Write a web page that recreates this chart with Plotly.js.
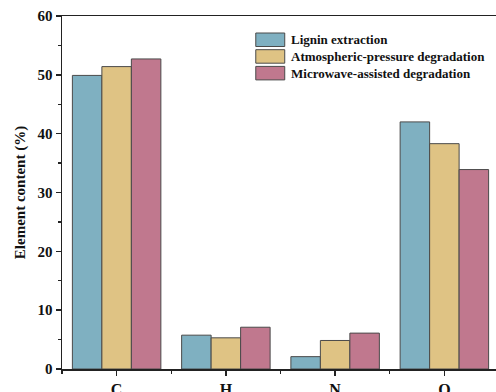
<!DOCTYPE html>
<html>
<head>
<meta charset="utf-8">
<script src="https://cdn.plot.ly/plotly-3.0.1.min.js"></script>
<style>html,body{margin:0;padding:0;overflow:hidden;background:#fff;}</style>
</head>
<body>
<div id="chart" style="width:500px;height:392px;"></div>
<script>
const categories = ["C", "H", "N", "O"];
const seriesNames = ["Lignin extraction", "Atmospheric-pressure degradation", "Microwave-assisted degradation"];
const ligninExtraction = [49.9, 5.75, 2.1, 42.0];
const atmosphericPressure = [51.4, 5.3, 4.85, 38.3];
const microwaveAssisted = [52.7, 7.1, 6.1, 33.9];
const yTicks = [0, 10, 20, 30, 40, 50, 60];
const colors = ["#7fb0c1", "#dfc384", "#c0788e"];

const serif = "Liberation Serif, Times New Roman, serif";
const idx = categories.map((c, i) => i);
const allSeries = [ligninExtraction, atmosphericPressure, microwaveAssisted];

const traces = allSeries.map((vals, k) => ({
  type: "bar",
  name: seriesNames[k],
  x: idx,
  y: vals,
  marker: {color: colors[k], line: {color: "#4a4a4a", width: 1}},
  showlegend: false,
  hoverinfo: "x+y"
}));

// custom legend geometry (paper coordinates from pixel positions)
const L = 62, R = 499.5, T = 16, B = 369;
const px = v => (v - L) / (R - L);
const py = v => (B - v) / (B - T);
const shapes = [];
const annotations = [];
const rows = [33, 49.7, 66.4];
rows.forEach((top, k) => {
  shapes.push({type: "rect", xref: "paper", yref: "paper",
    x0: px(256), x1: px(285), y0: py(top + 13.5), y1: py(top),
    fillcolor: colors[k], line: {color: "#4a4a4a", width: 1}});
  annotations.push({xref: "paper", yref: "paper", x: px(289), y: py(top + 6.8),
    xanchor: "left", yanchor: "middle", showarrow: false,
    text: "<b>" + seriesNames[k] + "</b>",
    font: {family: serif, size: 13, color: "#111"}});
});

const layout = {
  width: 500, height: 392,
  margin: {l: 62, r: 0.5, t: 16, b: 23},
  paper_bgcolor: "#fff", plot_bgcolor: "#fff",
  barmode: "group", bargap: 0.19, bargroupgap: 0,
  showlegend: false,
  xaxis: {
    range: [-0.5, 3.5],
    tickvals: idx, ticktext: categories.map(c => "<b>" + c + "</b>"),
    ticks: "outside", ticklen: 5, tickwidth: 1.5, tickcolor: "#222",
    minor: {tick0: 0.5, dtick: 1, ticks: "outside", ticklen: 3, tickwidth: 1.2, tickcolor: "#222"},
    showline: true, linecolor: "#222", linewidth: 1.5, mirror: true,
    showgrid: false, zeroline: false,
    tickfont: {family: serif, size: 16, color: "#111"}
  },
  yaxis: {
    range: [0, 60],
    tickvals: yTicks, ticktext: yTicks.map(v => "<b>" + v + "</b>"),
    ticks: "outside", ticklen: 5, tickwidth: 1.5, tickcolor: "#222",
    minor: {tick0: 5, dtick: 10, ticks: "outside", ticklen: 3, tickwidth: 1.2, tickcolor: "#222"},
    showline: true, linecolor: "#222", linewidth: 1.5, mirror: true,
    showgrid: false, zeroline: false,
    tickfont: {family: serif, size: 15, color: "#111"},
    title: {text: "<b>Element content (%)</b>", font: {family: serif, size: 15, color: "#111"}, standoff: 8}
  },
  shapes: shapes,
  annotations: annotations
};

Plotly.newPlot("chart", traces, layout, {displayModeBar: false, staticPlot: true});
</script>
</body>
</html>
